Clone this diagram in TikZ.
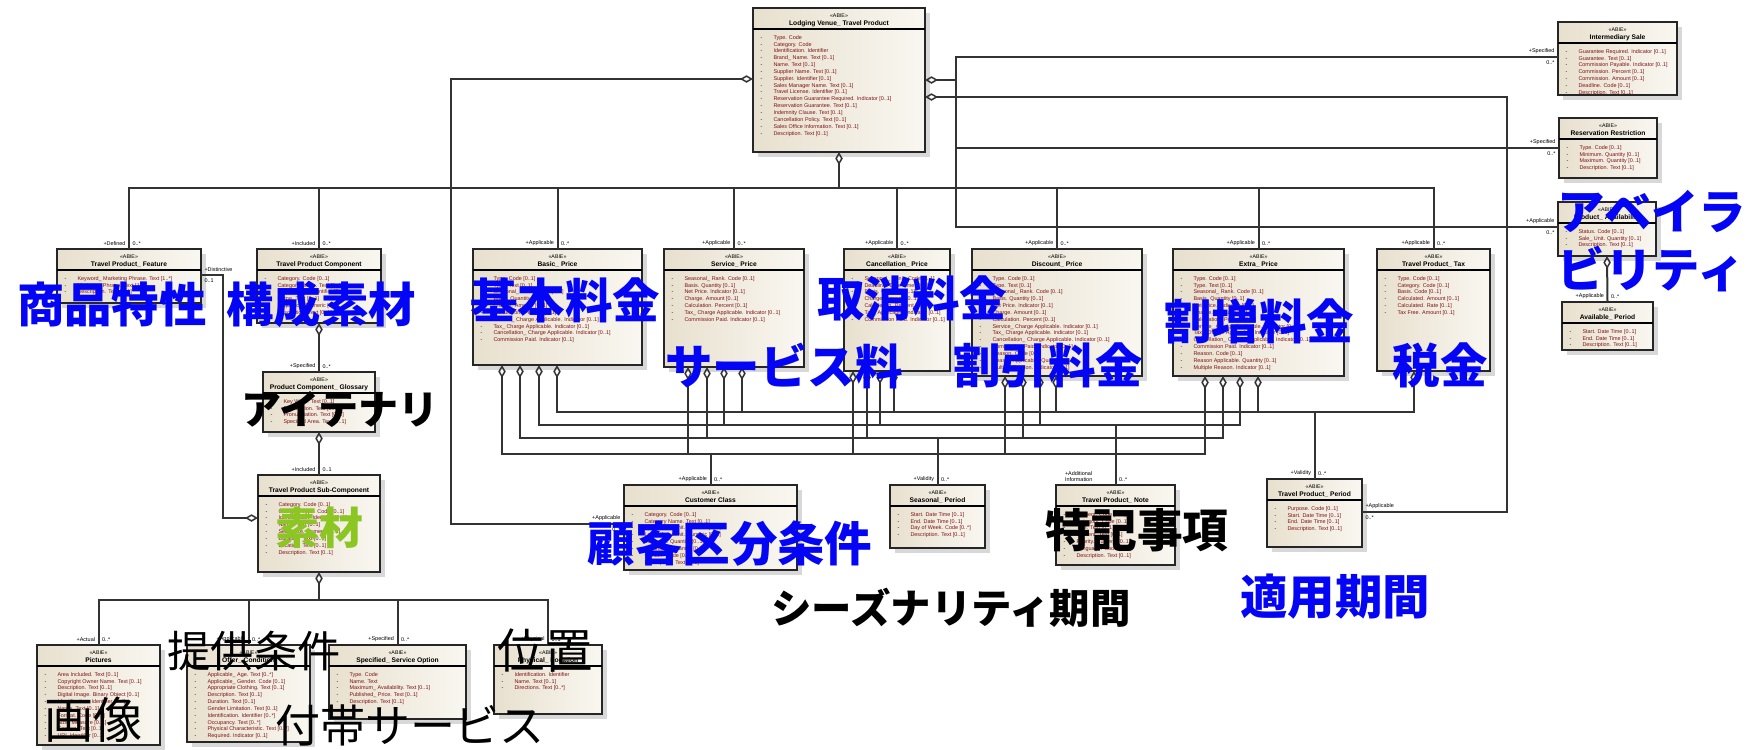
\documentclass[tikz,border=0pt]{standalone}
\usepackage{fontspec}
\setmainfont{Liberation Sans}
\newfontfamily\jp{Noto Sans CJK JP}
\usetikzlibrary{arrows.meta,positioning,shadows,calc}
\definecolor{jpblue}{RGB}{5,5,245}
\definecolor{jpgreen}{RGB}{140,198,35}
\definecolor{attred}{RGB}{125,20,20}
\definecolor{boxl}{RGB}{232,224,206}
\definecolor{boxr}{RGB}{249,247,241}
\tikzset{>=latex}
\tikzset{
  abie/.style={draw=black!85, line width=0.22mm, left color=boxl, right color=boxr,
    drop shadow={shadow xshift=0.45mm, shadow yshift=-0.45mm, opacity=0.3}, inner sep=0, outer sep=0},
  head/.style={font=\fontsize{1.9}{2.2}\selectfont\bfseries, align=center, inner sep=0.3mm},
  attrs/.style={font=\fontsize{1.55}{1.95}\selectfont, align=left, inner sep=0.3mm, text=attred},
  link/.style={line width=0.2mm, draw=black!80},
  agg/.style={link, {Diamond[open,length=1.3mm,width=0.75mm,line width=0.15mm]}-},
  rolel/.style={font=\fontsize{1.55}{1.8}\selectfont, anchor=south east, inner sep=0.25mm},
  roler/.style={font=\fontsize{1.55}{1.8}\selectfont, anchor=south west, inner sep=0.25mm},
  rolebl/.style={font=\fontsize{1.55}{1.8}\selectfont, anchor=north east, inner sep=0.25mm},
  rolebr/.style={font=\fontsize{1.55}{1.8}\selectfont, anchor=north west, inner sep=0.25mm},
  big/.style={font=\jp\bfseries\fontsize{13.5}{16.5}\selectfont, text=jpblue, inner sep=0},
  bigblack/.style={big, text=black},
  thin/.style={font=\jp\fontsize{13}{15}\selectfont, text=black, inner sep=0},
}
% one class box: name, x, y, width, height, title, attributes
\newcommand{\abiebox}[7]{%
  \node[abie, anchor=north west, minimum width=#4*0.1mm, minimum height=#5*0.1mm] (#1) at (#2,#3) {};
  \draw[line width=0.2mm] ([yshift=-2.05mm]#1.north west) -- ([yshift=-2.05mm]#1.north east);
  \node[head, anchor=north] at ([yshift=-0.2mm]#1.north) {{\mdseries\fontsize{1.5}{1.8}\selectfont<<ABIE>>}\\#6};
  \node[attrs, anchor=north west] at ([shift={(0.4mm,-2.35mm)}]#1.north west) {#7};
}
\newcommand{\ab}[1]{{\color{black}-}\hspace{1.1mm}#1}

\begin{document}
\begin{tikzpicture}[x=0.1mm, y=-0.1mm]
  \fill[white] (0,0) rectangle (1753,749);
  \useasboundingbox (0,0) rectangle (1753,749);

  % classes
  \abiebox{lodging}{753}{8}{172}{144}{Lodging Venue\_ Travel Product}{\ab{Type. Code}\\\ab{Category. Code}\\\ab{Identification. Identifier}\\\ab{Brand\_ Name. Text [0..1]}\\\ab{Name. Text [0..1]}\\\ab{Supplier Name. Text [0..1]}\\\ab{Supplier. Identifier [0..1]}\\\ab{Sales Manager Name. Text [0..1]}\\\ab{Travel License. Identifier [0..1]}\\\ab{Reservation Guarantee Required. Indicator [0..1]}\\\ab{Reservation Guarantee. Text [0..1]}\\\ab{Indemnity Clause. Text [0..1]}\\\ab{Cancellation Policy. Text [0..1]}\\\ab{Sales Office Information. Text [0..1]}\\\ab{Description. Text [0..1]}}
  \abiebox{intermediary}{1558}{22}{119}{73}{Intermediary Sale}{\ab{Guarantee Required. Indicator [0..1]}\\\ab{Guarantee. Text [0..1]}\\\ab{Commission Payable. Indicator [0..1]}\\\ab{Commission. Percent [0..1]}\\\ab{Commission. Amount [0..1]}\\\ab{Deadline. Code [0..1]}\\\ab{Description. Text [0..1]}}
  \abiebox{reservation}{1559}{118}{98}{60}{Reservation Restriction}{\ab{Type. Code [0..1]}\\\ab{Minimum. Quantity [0..1]}\\\ab{Maximum. Quantity [0..1]}\\\ab{Description. Text [0..1]}}
  \abiebox{availability}{1558}{202}{98}{54}{Product\_ Availability}{\ab{Status. Code [0..1]}\\\ab{Sale\_ Unit. Quantity [0..1]}\\\ab{Description. Text [0..1]}}
  \abiebox{availperiod}{1562}{302}{91}{48}{Available\_ Period}{\ab{Start. Date Time [0..1]}\\\ab{End. Date Time [0..1]}\\\ab{Description. Text [0..1]}}
  \abiebox{feature}{57}{249}{144}{54}{Travel Product\_ Feature}{\ab{Keyword\_ Marketing Phrase. Text [1..*]}\\\ab{Marketing Phrase. Text [1..*]}\\\ab{Description. Text [0..1]}}
  \abiebox{component}{257}{249}{124}{74}{Travel Product Component}{\ab{Category. Code [0..1]}\\\ab{Category Name. Text [0..1]}\\\ab{Identification. Identifier [0..1]}\\\ab{Name. Text [0..1]}\\\ab{Sequence. Numeric [0..1]}\\\ab{Description. Text [0..1]}}
  \abiebox{glossary}{263}{372}{112}{60}{Product Component\_ Glossary}{\ab{Key Word. Text [0..1]}\\\ab{Explanation. Text [0..1]}\\\ab{Pronunciation. Text [0..1]}\\\ab{Specified Area. Text [0..1]}}
  \abiebox{subcomp}{258}{475}{122}{97}{Travel Product Sub-Component}{\ab{Category. Code [0..1]}\\\ab{Category Type. Code [0..1]}\\\ab{Identification. Identifier [0..1]}\\\ab{Name. Text [0..1]}\\\ab{Sequence. Numeric [0..1]}\\\ab{Duration. Text [0..1]}\\\ab{Location. Text [0..1]}\\\ab{Description. Text [0..1]}}
  \abiebox{basic}{473}{249}{169}{116}{Basic\_ Price}{\ab{Type. Code [0..1]}\\\ab{Type. Text [0..1]}\\\ab{Seasonal\_ Rank. Code [0..1]}\\\ab{Basis. Quantity [0..1]}\\\ab{Charge. Amount [0..1]}\\\ab{Calculation. Percent [0..1]}\\\ab{Service\_ Charge Applicable. Indicator [0..1]}\\\ab{Tax\_ Charge Applicable. Indicator [0..1]}\\\ab{Cancellation\_ Charge Applicable. Indicator [0..1]}\\\ab{Commission Paid. Indicator [0..1]}}
  \abiebox{service}{664}{249}{140}{118}{Service\_ Price}{\ab{Seasonal\_ Rank. Code [0..1]}\\\ab{Basis. Quantity [0..1]}\\\ab{Net Price. Indicator [0..1]}\\\ab{Charge. Amount [0..1]}\\\ab{Calculation. Percent [0..1]}\\\ab{Tax\_ Charge Applicable. Indicator [0..1]}\\\ab{Commission Paid. Indicator [0..1]}}
  \abiebox{cancellation}{844}{249}{106}{122}{Cancellation\_ Price}{\ab{Seasonal\_ Rank. Code [0..1]}\\\ab{Deadline. Date Time [0..1]}\\\ab{Basis. Quantity [0..1]}\\\ab{Charge. Amount [0..1]}\\\ab{Calculation. Percent [0..1]}\\\ab{Tax\_ Applicable. Indicator [0..1]}\\\ab{Commission Paid. Indicator [0..1]}}
  \abiebox{discount}{972}{249}{170}{127}{Discount\_ Price}{\ab{Type. Code [0..1]}\\\ab{Type. Text [0..1]}\\\ab{Seasonal\_ Rank. Code [0..1]}\\\ab{Basis. Quantity [0..1]}\\\ab{Net Price. Indicator [0..1]}\\\ab{Charge. Amount [0..1]}\\\ab{Calculation. Percent [0..1]}\\\ab{Service\_ Charge Applicable. Indicator [0..1]}\\\ab{Tax\_ Charge Applicable. Indicator [0..1]}\\\ab{Cancellation\_ Charge Applicable. Indicator [0..1]}\\\ab{Commission Paid. Indicator [0..1]}\\\ab{Reason. Code [0..1]}\\\ab{Reason Applicable. Quantity [0..1]}\\\ab{Multiple Reason. Indicator [0..1]}}
  \abiebox{extra}{1173}{249}{171}{127}{Extra\_ Price}{\ab{Type. Code [0..1]}\\\ab{Type. Text [0..1]}\\\ab{Seasonal\_ Rank. Code [0..1]}\\\ab{Basis. Quantity [0..1]}\\\ab{Net Price. Indicator [0..1]}\\\ab{Charge. Amount [0..1]}\\\ab{Calculation. Percent [0..1]}\\\ab{Service\_ Charge Applicable. Indicator [0..1]}\\\ab{Tax\_ Charge Applicable. Indicator [0..1]}\\\ab{Cancellation\_ Charge Applicable. Indicator [0..1]}\\\ab{Commission Paid. Indicator [0..1]}\\\ab{Reason. Code [0..1]}\\\ab{Reason Applicable. Quantity [0..1]}\\\ab{Multiple Reason. Indicator [0..1]}}
  \abiebox{tax}{1377}{249}{113}{122}{Travel Product\_ Tax}{\ab{Type. Code [0..1]}\\\ab{Category. Code [0..1]}\\\ab{Basis. Code [0..1]}\\\ab{Calculated. Amount [0..1]}\\\ab{Calculated. Rate [0..1]}\\\ab{Tax Free. Amount [0..1]}}
  \abiebox{customer}{624}{485}{173}{85}{Customer Class}{\ab{Category. Code [0..1]}\\\ab{Category Name. Text [0..1]}\\\ab{Upper Age Limit. Numeric [0..1]}\\\ab{Lower Age Limit. Numeric [0..1]}\\\ab{Minimum. Quantity [0..1]}\\\ab{Maximum. Quantity [0..1]}\\\ab{Gender. Code [0..1]}\\\ab{Description. Text [0..1]}}
  \abiebox{seasonal}{890}{485}{95}{63}{Seasonal\_ Period}{\ab{Start. Date Time [0..1]}\\\ab{End. Date Time [0..1]}\\\ab{Day of Week. Code [0..*]}\\\ab{Description. Text [0..1]}}
  \abiebox{note}{1056}{485}{119}{80}{Travel Product\_ Note}{\ab{Content. Code [0..1]}\\\ab{Category. Code [0..1]}\\\ab{Title. Text [0..1]}\\\ab{Content. Text [0..1]}\\\ab{Priority. Numeric [0..1]}\\\ab{Language. Code [0..1]}\\\ab{Description. Text [0..1]}}
  \abiebox{period}{1267}{479}{95}{68}{Travel Product\_ Period}{\ab{Purpose. Code [0..1]}\\\ab{Start. Date Time [0..1]}\\\ab{End. Date Time [0..1]}\\\ab{Description. Text [0..1]}}
  \abiebox{pictures}{37}{645}{123}{100}{Pictures}{\ab{Area Included. Text [0..1]}\\\ab{Copyright Owner Name. Text [0..1]}\\\ab{Description. Text [0..1]}\\\ab{Digital Image. Binary Object [0..1]}\\\ab{Identification. Identifier [0..*]}\\\ab{Name. Text [0..1]}\\\ab{Format. Code [0..1]}\\\ab{Size. Measure [0..1]}\\\ab{Caption. Text [0..1]}\\\ab{URI. Identifier [0..1]}}
  \abiebox{offering}{187}{645}{123}{97}{Offer\_ Condition}{\ab{Applicable\_ Age. Text [0..*]}\\\ab{Applicable\_ Gender. Code [0..1]}\\\ab{Appropriate Clothing. Text [0..1]}\\\ab{Description. Text [0..1]}\\\ab{Duration. Text [0..1]}\\\ab{Gender Limitation. Text [0..1]}\\\ab{Identification. Identifier [0..*]}\\\ab{Occupancy. Text [0..*]}\\\ab{Physical Characteristic. Text [0..*]}\\\ab{Required. Indicator [0..1]}}
  \abiebox{option}{329}{645}{137}{74}{Specified\_ Service Option}{\ab{Type. Code}\\\ab{Name. Text}\\\ab{Maximum\_ Availability. Text [0..1]}\\\ab{Published\_ Price. Text [0..1]}\\\ab{Description. Text [0..1]}}
  \abiebox{physical}{494}{645}{108}{69}{Physical\_ Location}{\ab{Identification. Identifier}\\\ab{Name. Text [0..1]}\\\ab{Directions. Text [0..*]}}

  % venue to the product parts and prices
  \coordinate (upbus) at (839,188);
  \draw[agg] (lodging.south) -- (upbus);
  \draw[link] (upbus) -| (feature.north) node[rolel]{+Defined} node[roler]{0..*};
  \draw[link] (upbus) -| (component.north) node[rolel]{+Included} node[roler]{0..*};
  \draw[link] (upbus) -| (basic.north) node[rolel]{+Applicable} node[roler]{0..*};
  \draw[link] (upbus) -| (service.north) node[rolel]{+Applicable} node[roler]{0..*};
  \draw[link] (upbus) -| (cancellation.north) node[rolel]{+Applicable} node[roler]{0..*};
  \draw[link] (upbus) -| (discount.north) node[rolel]{+Applicable} node[roler]{0..*};
  \draw[link] (upbus) -| (extra.north) node[rolel]{+Applicable} node[roler]{0..*};
  \draw[link] (upbus) -| (tax.north) node[rolel]{+Applicable} node[roler]{0..*};

  % venue to customer class
  \coordinate (leftturn) at (451,79);
  \draw[agg] (lodging.north west |- leftturn) -- (leftturn) |- ([yshift=-3.9mm]customer.north west)
    node[rolel]{+Applicable} node[rolebl]{0..*};

  % venue to the right hand classes
  \coordinate (rturn) at (956,80);
  \coordinate (farturn) at (1507,97);
  \draw[agg] (lodging.east |- rturn) -- (rturn);
  \draw[link] (rturn) |- ([yshift=-3.5mm]intermediary.north west) node[rolel]{+Specified} node[rolebl]{0..*};
  \draw[link] (rturn) |- ([yshift=-3.0mm]reservation.north west) node[rolel]{+Specified} node[rolebl]{0..*};
  \draw[link] (rturn) |- ([yshift=-2.5mm]availability.north west) node[rolel]{+Applicable} node[rolebl]{0..*};
  \draw[agg] (lodging.east |- farturn) -- (farturn) |- ([yshift=-3.3mm]period.north east)
    node[roler]{+Applicable} node[rolebr]{0..*};
  \draw[agg] (availability.south) -- (availperiod.north) node[rolel]{+Applicable} node[roler]{0..*};

  % component chain
  \draw[agg] (component.south) -- (glossary.north) node[rolel]{+Specified} node[roler]{0..*};
  \draw[agg] (glossary.south) -- (subcomp.north) node[rolel]{+Included} node[roler]{0..1};
  \coordinate (distturn) at (223,518);
  \draw[agg] (subcomp.west |- distturn) -- (distturn) |- ([yshift=-2.6mm]feature.north east)
    node[roler]{+Distinctive} node[rolebr]{0..1};

  % sub-component parts
  \coordinate (lowbus) at (319,600);
  \draw[agg] (subcomp.south) -- (lowbus);
  \draw[link] (lowbus) -| (pictures.north) node[rolel]{+Actual} node[roler]{0..*};
  \draw[link] (lowbus) -| (offering.north) node[rolel]{+Applicable} node[roler]{0..*};
  \draw[link] (lowbus) -| (option.north) node[rolel]{+Specified} node[roler]{0..*};
  \draw[link] (lowbus) -| (physical.north) node[rolel]{+Physical} node[roler]{0..1};

  % prices to customer class, season, note and period
  \coordinate (ccbus) at (0,454);
  \coordinate (seabus) at (0,438);
  \coordinate (notebus) at (0,425);
  \coordinate (perbus) at (0,412);
  \draw[agg] ([xshift=2.9mm]basic.south west) |- (customer.north |- ccbus);
  \draw[agg] ([xshift=4.7mm]basic.south west) |- (seasonal.north |- seabus);
  \draw[agg] ([xshift=6.6mm]basic.south west) |- (note.north |- notebus);
  \draw[agg] ([xshift=8.4mm]basic.south west) |- (period.north |- perbus);
  \draw[agg] ([xshift=2.4mm]service.south west) |- (customer.north |- ccbus);
  \draw[agg] ([xshift=4.3mm]service.south west) |- (seasonal.north |- seabus);
  \draw[agg] ([xshift=6.0mm]service.south west) |- (note.north |- notebus);
  \draw[agg] ([xshift=7.8mm]service.south west) |- (period.north |- perbus);
  \draw[agg] ([xshift=0.9mm]cancellation.south west) |- (customer.north |- ccbus);
  \draw[agg] ([xshift=2.3mm]cancellation.south west) |- (seasonal.north |- seabus);
  \draw[agg] ([xshift=3.6mm]cancellation.south west) |- (note.north |- notebus);
  \draw[agg] ([xshift=5.0mm]cancellation.south west) |- (period.north |- perbus);
  \draw[agg] ([xshift=3.3mm]discount.south west) |- (customer.north |- ccbus);
  \draw[agg] ([xshift=5.1mm]discount.south west) |- (seasonal.north |- seabus);
  \draw[agg] ([xshift=6.8mm]discount.south west) |- (note.north |- notebus);
  \draw[agg] ([xshift=8.4mm]discount.south west) |- (period.north |- perbus);
  \draw[agg] ([xshift=3.2mm]extra.south west) |- (customer.north |- ccbus);
  \draw[agg] ([xshift=5.0mm]extra.south west) |- (seasonal.north |- seabus);
  \draw[agg] ([xshift=6.7mm]extra.south west) |- (note.north |- notebus);
  \draw[agg] ([xshift=8.5mm]extra.south west) |- (period.north |- perbus);
  \draw[agg] ([xshift=3.7mm]tax.south west) |- (period.north |- perbus);
  \draw[link] (customer.north |- ccbus) -- (customer.north) node[rolel]{+Applicable} node[roler]{0..*};
  \draw[link] (seasonal.north |- seabus) -- (seasonal.north) node[rolel]{+Validity} node[roler]{0..*};
  \draw[link] (note.north |- notebus) -- (note.north) node[roler]{0..*};
  \node[rolel, align=left, anchor=south east] (addinfo) at ([xshift=-2mm]note.north) {+Additional\\Information};
  \draw[link] (period.north |- perbus) -- (period.north) node[rolel]{+Validity} node[roler]{0..*};

  % Japanese captions
  \node[big] (capfeature) at (112,304) {商品特性};
  \node[big] (capcomponent) at (321,304) {構成素材};
  \node[big] (capbasic) at (565,300) {基本料金};
  \node[big] (capcancel) at (912,298) {取消料金};
  \node[big] (capservice) at (784,366) {サービス料};
  \node[big] (capdiscount) at (1048,365) {割引料金};
  \node[big] (capextra) at (1259,321) {割増料金};
  \node[big] (captax) at (1440,365) {税金};
  \node[big, align=left] (capavail) at (1652,241) {アベイラ\\ビリティ};
  \node[bigblack, font=\jp\bfseries\fontsize{11.4}{13}\selectfont] (capglossary) at (340,409) {アイテナリ};
  \node[big, text=jpgreen, font=\jp\bfseries\fontsize{12.5}{14}\selectfont] (capsub) at (319,528) {素材};
  \node[big] (capcustomer) at (730,544) {顧客区分条件};
  \node[bigblack, font=\jp\bfseries\fontsize{13}{15}\selectfont] (capnote) at (1137,530) {特記事項};
  \node[bigblack, font=\jp\bfseries\fontsize{11.5}{13}\selectfont] (capseason) at (951,608) {シーズナリティ期間};
  \node[big] (capperiod) at (1335,597) {適用期間};
  \node[thin, font=\jp\fontsize{12.3}{14}\selectfont] (capoffer) at (254,651) {提供条件};
  \node[thin, font=\jp\fontsize{14}{16}\selectfont] (cappict) at (94,720) {画像};
  \node[thin, font=\jp\fontsize{12.8}{15}\selectfont] (capoption) at (410,725) {付帯サービス};
  \node[thin, font=\jp\fontsize{13.5}{15}\selectfont] (capphys) at (545,651) {位置};
\end{tikzpicture}
\end{document}
